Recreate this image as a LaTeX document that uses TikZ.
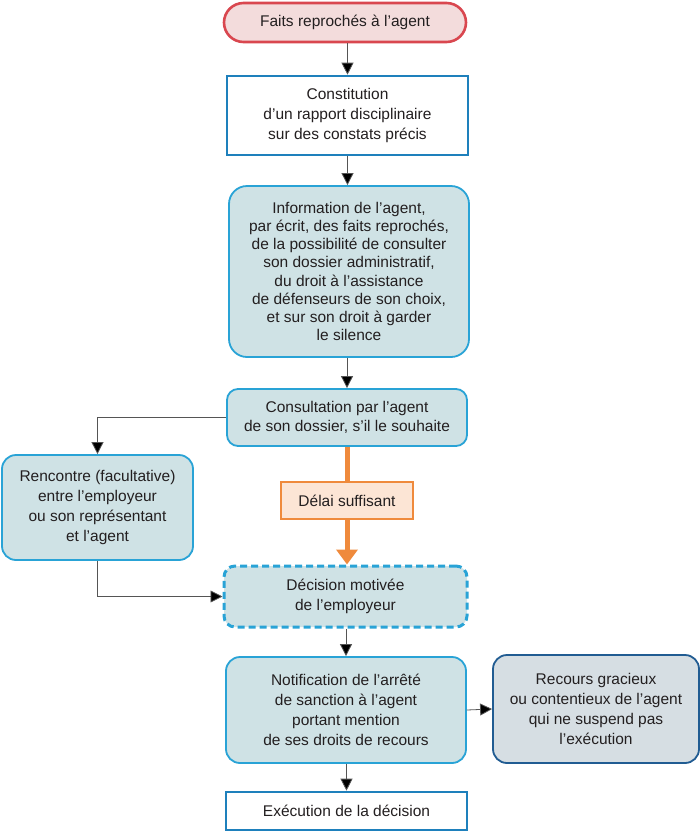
\documentclass[tikz,border=0pt]{standalone}
\usepackage{fontspec}
\setmainfont{Liberation Sans}
\usetikzlibrary{arrows.meta,shapes.misc,positioning}
\definecolor{txt}{HTML}{231F20}
\definecolor{redb}{HTML}{D9474F}
\definecolor{pinkf}{HTML}{F3DCDC}
\definecolor{blueb}{HTML}{1E80BC}
\definecolor{cyanb}{HTML}{29A3D6}
\definecolor{tealf}{HTML}{CFE2E5}
\definecolor{orb}{HTML}{EF8A3C}
\definecolor{orf}{HTML}{FCE5D5}
\definecolor{navyb}{HTML}{215C92}
\definecolor{greyf}{HTML}{D6DEE3}
\definecolor{linec}{HTML}{555555}
\tikzset{
  base/.style={font=\fontsize{15.5}{20}\selectfont, text=txt, align=center, inner sep=0pt},
  startbox/.style={base, rounded rectangle, draw=redb, fill=pinkf, line width=2.6pt},
  plainbox/.style={base, rectangle, draw=blueb, fill=white, line width=2.6pt},
  infobox/.style={base, rectangle, draw=cyanb, fill=tealf, line width=1.8pt},
  delaybox/.style={base, rectangle, draw=orb, fill=orf, line width=2.6pt},
  recbox/.style={base, rectangle, rounded corners=14pt, draw=navyb, fill=greyf, line width=1.8pt},
  conn/.style={draw=linec, line width=0.8pt, -{Triangle[length=12pt,width=12pt,fill=black]}},
  orline/.style={draw=orb, line width=5pt},
}
\begin{document}
\begin{tikzpicture}[x=1pt,y=-1pt]
\useasboundingbox (0,0) rectangle (700,831);
\node[startbox, minimum width=242pt, minimum height=39pt] (faits) at (345,22.5) {Faits reprochés à l’agent};
\node[plainbox, minimum width=241pt, minimum height=79pt] (const) at (347.5,115.5) {Constitution\\d’un rapport disciplinaire\\sur des constats précis};
\node[infobox, font=\fontsize{15.5}{18.2}\selectfont, rounded corners=18pt, minimum width=240pt, minimum height=171pt] (info) at (349,271.5) {Information de l’agent,\\par écrit, des faits reprochés,\\de la possibilité de consulter\\son dossier administratif,\\du droit à l’assistance\\de défenseurs de son choix,\\et sur son droit à garder\\le silence};
\node[infobox, font=\fontsize{15.5}{19}\selectfont, rounded corners=11pt, minimum width=240pt, minimum height=57pt] (consult) at (347,417.5) {Consultation par l’agent\\de son dossier, s’il le souhaite};
\node[infobox, rounded corners=14pt, minimum width=191pt, minimum height=105pt] (renc) at (97.5,507.5) {Rencontre (facultative)\\entre l’employeur\\ou son représentant\\et l’agent};
\node[delaybox, minimum width=132pt, minimum height=37pt] (delai) at (347,500.5) {Délai suffisant};
\node[infobox, dashed, dash pattern=on 7pt off 4pt, line width=3pt, rounded corners=11pt, minimum width=243pt, minimum height=61pt] (dec) at (345.5,596.5) {Décision motivée\\de l’employeur};
\node[infobox, rounded corners=14pt, minimum width=240pt, minimum height=106pt] (notif) at (346,710) {Notification de l’arrêté\\de sanction à l’agent\\portant mention\\de ses droits de recours};
\node[recbox, minimum width=206pt, minimum height=108pt] (recours) at (596,709) {Recours gracieux\\ou contentieux de l’agent\\qui ne suspend pas\\l’exécution};
\node[plainbox, minimum width=241pt, minimum height=38pt] (exec) at (346.5,811) {Exécution de la décision};

\draw[conn] (faits.south -| const.north) -- (const.north);
\draw[conn] (const.south) -- (const.south |- info.north);
\draw[conn] (info.south -| consult.north) -- (consult.north);
\draw[conn] (consult.west) -| (renc.north);
\draw[conn] (renc.south) |- (dec.west);
\draw[orline] (consult.south -| delai.north) -- (delai.north);
\draw[orline, -{Triangle[length=15pt,width=21pt]}] (delai.south) -- (delai.south |- dec.north);
\draw[conn] (dec.south -| notif.north) -- (notif.north);
\draw[conn] (notif.east) -- (recours.west);
\draw[conn] (notif.south -| exec.north) -- (exec.north);
\end{tikzpicture}
\end{document}
